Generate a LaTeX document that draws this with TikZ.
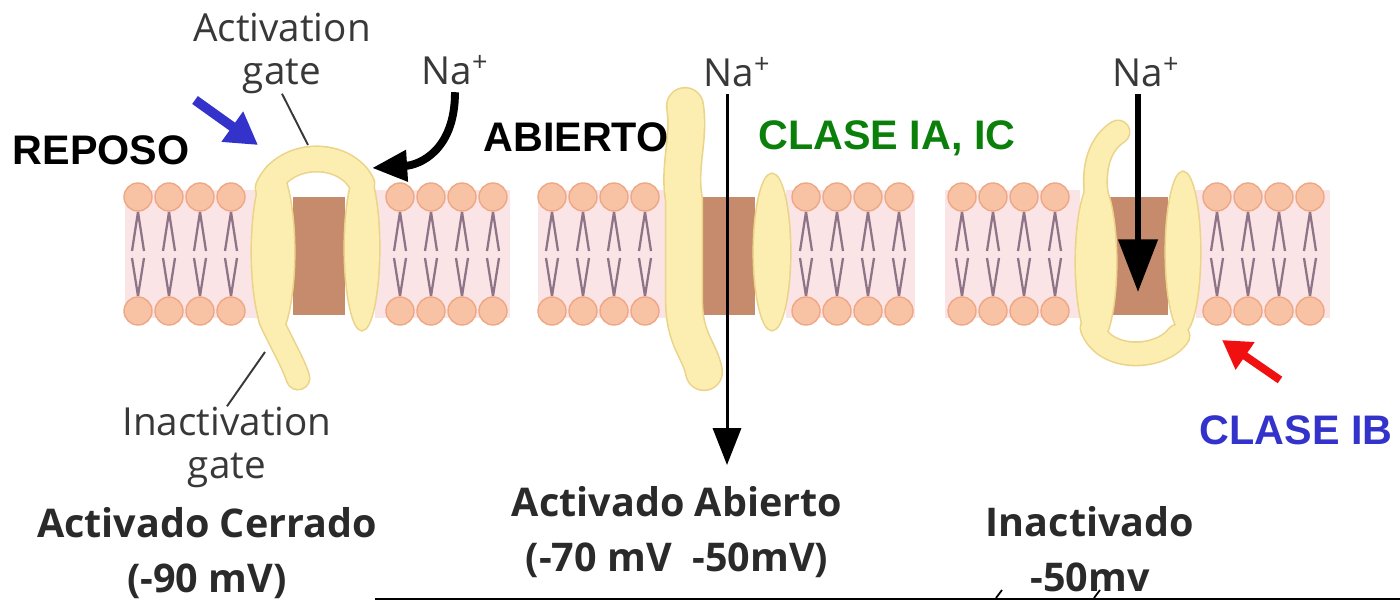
\documentclass[tikz,border=0pt]{standalone}
\usepackage{fontspec}
\setmainfont{Liberation Sans}
\newfontfamily\figfont{Open Sans}
\usetikzlibrary{arrows.meta}

\definecolor{membrana}{HTML}{FBE4E6}
\definecolor{cabeza}{HTML}{F8C2A4}
\definecolor{cabezaborde}{HTML}{EEA884}
\definecolor{cola}{HTML}{8E7486}
\definecolor{canal}{HTML}{FCEDB0}
\definecolor{canalborde}{HTML}{EBD48A}
\definecolor{poro}{HTML}{C68A6C}
\definecolor{azul}{HTML}{3333CC}
\definecolor{verde}{HTML}{0A800A}
\definecolor{rojo}{HTML}{F01010}
\definecolor{gris}{HTML}{383838}
\definecolor{estado}{HTML}{2A2A2A}

\tikzset{
  tag/.style={font=\bfseries\fontsize{23.5}{26}\selectfont, inner sep=0pt},
  rotulo/.style={font=\figfont\fontsize{22}{24.5}\selectfont, text=gris, align=center, inner sep=0pt},
  estadotxt/.style={font=\figfont\bfseries\fontsize{22.5}{31.5}\selectfont, text=estado, align=center, inner sep=0pt},
  cola/.style={draw=cola, line width=1.3pt},
  cabeza/.style={fill=cabeza, draw=cabezaborde, line width=0.8pt},
  guia/.style={draw=gris, line width=1.1pt},
}

% yellow channel subunits, drawn twice (edge, then body)
\newcommand{\subunidades}{
  % closed channel
  \path[tubo=13.6pt] (268,188) .. controls (285,150) and (345,150) .. (362,184);
  \path[tubo=12.5pt] (270,318) .. controls (282,345) and (292,360) .. (298,378);
  \path[bloque] (273,252) ellipse [x radius=21, y radius=88];
  \path[bloque] (362,248) ellipse [x radius=17, y radius=82];
  % open channel
  \path[tubo=20pt] (685,106) .. controls (690,140) and (678,165) .. (684,200) -- (684,300) .. controls (684,340) and (700,350) .. (704,372);
  \path[bloque] (772,252) ellipse [x radius=18, y radius=78];
  % inactivated channel
  \path[tubo=12.5pt] (1098,205) .. controls (1090,165) and (1102,142) .. (1118,132);
  \path[tubo=12.5pt] (1092,328) .. controls (1105,362) and (1160,360) .. (1178,336);
  \path[bloque] (1096,262) ellipse [x radius=20, y radius=84];
  \path[bloque] (1183,252) ellipse [x radius=17, y radius=80];
}

\begin{document}
\begin{tikzpicture}[x=0.02cm, y=-0.02cm]
  \useasboundingbox (0,0) rectangle (1400,601);

  % membrane
  \foreach \a/\b in {125/258, 375/510, 538/670, 786/915, 945/1080, 1196/1330}
    \fill[membrana] (\a,190) rectangle (\b,318);
  \foreach \hx in {138,169,200,231,400,431,462,493,552,583,614,645,806,837,868,899,962,993,1024,1055,1217,1248,1279,1310} {
    \draw[cola] (\hx,212) -- (\hx-6,251);
    \draw[cola] (\hx,212) -- (\hx+6,251);
    \draw[cola] (\hx,296) -- (\hx-6,258);
    \draw[cola] (\hx,296) -- (\hx+6,258);
    \path[cabeza] (\hx,197) circle[radius=14];
    \path[cabeza] (\hx,311) circle[radius=14];
  }

  % pores
  \fill[poro] (293,197) rectangle (345,315);
  \fill[poro] (700,197) rectangle (755,315);
  \fill[poro] (1110,197) rectangle (1168,315);

  \begin{scope}[tubo/.style={draw=canalborde, line width=#1+1.8pt, line cap=round},
                bloque/.style={fill=canalborde, draw=canalborde, line width=1.8pt}]
    \subunidades
  \end{scope}
  \begin{scope}[tubo/.style={draw=canal, line width=#1, line cap=round},
                bloque/.style={fill=canal}]
    \subunidades
  \end{scope}

  % labels
  \node[tag] (reposo) at (101,150) {REPOSO};
  \node[tag] (abierto) at (576,137) {ABIERTO};
  \node[tag, text=verde] (claseA) at (887,138) {CLASE IA, IC};
  \node[tag, text=azul] (claseB) at (1296,430) {CLASE IB};

  \node[rotulo] (actgate) at (282,53) {Activation\\gate};
  \node[rotulo] (inactgate) at (227,447) {Inactivation\\gate};
  \node[rotulo] (na1) at (455,70) {Na\textsuperscript{+}};
  \node[rotulo] (na2) at (737,72) {Na\textsuperscript{+}};
  \node[rotulo] (na3) at (1146,72) {Na\textsuperscript{+}};

  \node[estadotxt] (cerrado) at (207,553) {Activado Cerrado\\(-90 mV)};
  \node[estadotxt] (abiertotxt) at (677,532) {Activado Abierto\\(-70 mV\ \ -50mV)};
  \node[estadotxt] (inactivado) at (1090,549) {Inactivado\\-50mv};

  % pointers
  \coordinate (actpin) at (308,145);
  \coordinate (inactpin) at (265,352);
  \draw[guia] (actgate.south) -- (actpin);
  \draw[guia] (inactgate.north) -- (inactpin);

  % arrows
  \coordinate (azul0) at (195,100);
  \coordinate (azul1) at (258,145);
  \draw[azul, line width=5.5pt, -{Triangle[length=18pt, width=20pt]}] (azul0) -- (azul1);
  \coordinate (rojo0) at (1280,380);
  \coordinate (rojo1) at (1222,340);
  \draw[rojo, line width=4.5pt, -{Triangle[length=16pt, width=18pt]}] (rojo0) -- (rojo1);

  \coordinate (entrada) at (372,168);
  \draw[black, line width=4.5pt, -{Triangle[length=20pt, width=17pt]}, shorten <=4pt]
    (na1.south) .. controls (455,150) and (420,165) .. (entrada);
  \coordinate (paso) at (727,465);
  \draw[black, line width=1.7pt, -{Triangle[length=21pt, width=16pt]}, shorten <=4pt]
    (na2.south -| paso) -- (paso);
  \coordinate (tope) at (1138,292);
  \draw[black, line width=3.4pt, -{Triangle[length=30pt, width=22pt]}, shorten <=4pt]
    (na3.south -| tope) -- (tope);

  % bottom rule
  \coordinate (reglaA) at (375,599);
  \coordinate (reglaB) at (1400,599);
  \draw[black, line width=1.2pt] (reglaA) -- (reglaB);
  \draw[black, line width=1pt] (996,598) -- (1002,590);
  \draw[black, line width=1pt] (1094,598) -- (1100,590);
\end{tikzpicture}
\end{document}
